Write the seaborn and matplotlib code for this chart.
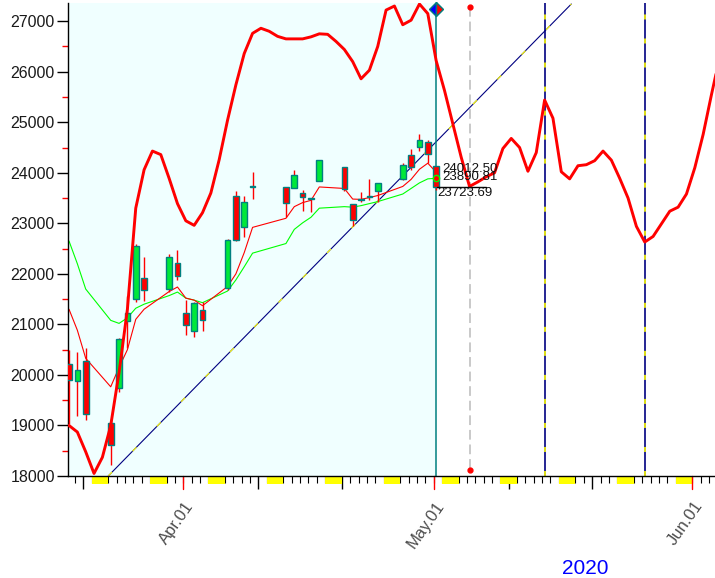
import numpy as np
import pandas as pd
import matplotlib
matplotlib.use("Agg")
import matplotlib.pyplot as plt
import matplotlib.dates as mdates
from matplotlib import font_manager
from matplotlib.patches import Rectangle
import seaborn as sns

# daily candles, Mar 18 - May 1 2020
dates = ["2020-03-18", "2020-03-19", "2020-03-20", "2020-03-23", "2020-03-24",
         "2020-03-25", "2020-03-26", "2020-03-27", "2020-03-30", "2020-03-31",
         "2020-04-01", "2020-04-02", "2020-04-03", "2020-04-06", "2020-04-07",
         "2020-04-08", "2020-04-09", "2020-04-13", "2020-04-14", "2020-04-15",
         "2020-04-16", "2020-04-17", "2020-04-20", "2020-04-21", "2020-04-22",
         "2020-04-23", "2020-04-24", "2020-04-27", "2020-04-28", "2020-04-29",
         "2020-04-30", "2020-05-01"]
opens = [20210, 19880, 20270, 19050, 19750, 21060, 21500, 21910, 21710, 22220,
         21220, 20870, 21290, 21730, 23550, 22920, 23730, 23710, 23700, 23610,
         23480, 23840, 24110, 23380, 23460, 23520, 23640, 23870, 24360, 24520,
         24600, 24130]
highs = [20490, 20450, 20530, 19120, 20730, 21560, 22600, 22340, 22400, 22480,
         21490, 21450, 21440, 22690, 23640, 23540, 24010, 23720, 24050, 23650,
         23510, 24260, 24120, 23390, 23620, 23880, 23800, 24190, 24480, 24760,
         24640, 24130]
lows = [19030, 19180, 19110, 18210, 19670, 20540, 21440, 21470, 21640, 21875,
        20800, 20750, 20870, 21690, 22650, 22720, 23490, 23120, 23710, 23240,
        23220, 23830, 23640, 22940, 23420, 23460, 23420, 23850, 24050, 24440,
        24190, 23650]
closes = [19900, 20090, 19220, 18620, 20720, 21220, 22560, 21680, 22340, 21950,
          20980, 21430, 21080, 22680, 22680, 23430, 23710, 23410, 23960, 23530,
          23500, 24250, 23670, 23060, 23490, 23540, 23790, 24150, 24110, 24640,
          24380, 23723.69]
ma_fast = [21300, 20885, 20330, 19765, 20150, 20500, 21100, 21300, 21650, 21740,
           21520, 21480, 21370, 21750, 22000, 22420, 22920, 23100, 23330, 23410,
           23455, 23720, 23690, 23480, 23474, 23510, 23550, 23730, 23870, 24070,
           24190, 24012.50]
ma_slow = [22650, 22200, 21700, 21080, 21020, 21130, 21320, 21400, 21570, 21640,
           21520, 21480, 21430, 21660, 21880, 22140, 22410, 22600, 22880, 23010,
           23120, 23300, 23330, 23320, 23350, 23390, 23430, 23580, 23690, 23800,
           23880, 23890.81]

# cycle projection, one value per calendar day starting Mar 18
cycle_start = "2020-03-18"
cycle = [19000, 18870, 18480, 18050, 18370, 19000, 20050, 21300, 23300, 24060,
         24430, 24360, 23890, 23390, 23050, 22960, 23210, 23600, 24260, 25040,
         25740, 26360, 26760, 26860, 26800, 26700, 26650, 26650, 26650, 26690,
         26750, 26740, 26600, 26440, 26200, 25860, 26030, 26500, 27220, 27300,
         26930, 27020, 27340, 27150, 26220, 25630, 24970, 24310, 23730, 23820,
         23920, 24000, 24480, 24680, 24500, 24030, 24400, 25440, 25080, 24020,
         23880, 24140, 24160, 24240, 24430, 24250, 23890, 23500, 22940, 22630,
         22740, 22990, 23240, 23320, 23580, 24100, 24760, 25550, 26300]

trend_dates = ["2020-03-23", "2020-05-17 12:00"]
trend_vals = [18000, 27340]
now_date = "2020-05-01"
gray_date = "2020-05-05 10:00"
gray_dots = [27290, 18120]
cycle_marks = ["2020-05-14", "2020-05-26"]
end_labels = ["24012.50", "23890.81", "23723.69"]
month_ticks = ["2020-04-01", "2020-05-01", "2020-06-01"]
month_labels = ["Apr.01", "May.01", "Jun.01"]

sns.set_theme(style="ticks")
plt.rcParams["font.family"] = ["Liberation Sans", "DejaVu Sans"]
plt.rcParams["lines.scale_dashes"] = False
names = {f.name for f in font_manager.fontManager.ttflist}
narrow = "Liberation Sans Narrow" if "Liberation Sans Narrow" in names else "Liberation Sans"

shift = 0.3  # marks sit a little right of the day tick
num = lambda s: mdates.date2num(pd.Timestamp(s))
xs = np.array([num(d) for d in dates]) + shift
now_x = num(now_date) + shift
cyc_x = num(cycle_start) + shift + np.arange(len(cycle))

fig = plt.figure(figsize=(7.15, 5.78), dpi=100)
ax = fig.add_axes([68 / 715, 102 / 578, 647 / 715, 473 / 578])
x0 = num("2020-04-01") - 13.82
x1 = num("2020-04-01") + 63.72
ax.set_xlim(x0, x1)
ax.set_ylim(18000, 27360)

ax.axvspan(x0, now_x, color="#f0ffff", zorder=0, lw=0)

# trend line
tx = [num(d) for d in trend_dates]
ax.plot(tx, trend_vals, color="#000080", lw=0.8, zorder=1.5)
ax.plot(tx, trend_vals, color="#ffff00", lw=0.8, dashes=(4, 21), zorder=1.6)

# vertical markers
ax.axvline(now_x, color="#008080", lw=1.1, zorder=1.7)
gx = num(gray_date)
ax.plot([gx, gx], gray_dots, color="#c0c0c0", lw=1.2, dashes=(7, 3.5), zorder=1.7)
ax.plot([gx, gx], gray_dots, "o", color="red", ms=3.5, zorder=5, clip_on=False)
for d in cycle_marks:
    vx = num(d) + shift
    ax.axvline(vx, color="#000080", lw=1.2, zorder=1.7)
    ax.axvline(vx, color="#ffff00", lw=1.2, dashes=(3.6, 13.7), zorder=1.8)

# moving averages
sns.lineplot(x=xs, y=ma_slow, ax=ax, color="#00ff00", lw=0.8, estimator=None, sort=False, zorder=2)
sns.lineplot(x=xs, y=ma_fast, ax=ax, color="#ff0000", lw=0.8, estimator=None, sort=False, zorder=2)

# candles
ax.vlines(xs, lows, highs, color="#ff0000", lw=1, zorder=3)
o = np.array(opens)
c = np.array(closes)
fill = np.where(c >= o, "#00e83a", "#ff0000")
ax.bar(xs, np.abs(c - o), bottom=np.minimum(o, c), width=0.68, color=fill,
       edgecolor="#008080", linewidth=1, zorder=3.5)

# cycle projection
sns.lineplot(x=cyc_x, y=cycle, ax=ax, color="#ff0000", lw=2.1, estimator=None, sort=False, zorder=4)

ax.plot(now_x, ma_slow[-1], "o", ms=4.5, mfc="red", mec="#00ff00", mew=1, zorder=5)
ax.plot(now_x, 27250, marker="D", ms=7, fillstyle="left", mfc="#0000ff",
        mfcalt="#ff0000", mec="#008080", mew=1, zorder=6, clip_on=False)
ax.plot([num(now_date) + 0.4, num(now_date) + 6.3], [closes[-1]] * 2, color="black", lw=1, zorder=5)
ax.text(num(now_date) + 1.05, 24075, end_labels[0], fontsize=9.5, family=narrow, va="center", color="#111111", zorder=6)
ax.text(num(now_date) + 1.05, 23925, end_labels[1], fontsize=9.5, family=narrow, va="center", color="#111111", zorder=6)
ax.text(num(now_date) + 0.45, 23610, end_labels[2], fontsize=9.5, family=narrow, va="center", color="#111111", zorder=6)

# axes styling
for s in ["top", "right"]:
    ax.spines[s].set_visible(False)
for s in ["left", "bottom"]:
    ax.spines[s].set_color("black")
    ax.spines[s].set_linewidth(1)

yt = list(range(18000, 27001, 1000))
ax.set_yticks(yt, [str(v) for v in yt], fontsize=11.5, fontfamily=narrow, color="#1a1a1a")
ax.set_yticks(list(range(18500, 27001, 1000)), minor=True)
ax.tick_params(axis="y", which="major", length=8, width=1, color="black", pad=1.5, left=True)
ax.tick_params(axis="y", which="minor", length=4, width=1, color="red", left=True)

ax.xaxis.set_major_locator(mdates.DayLocator(bymonthday=[10, 20]))
ax.xaxis.set_minor_locator(mdates.DayLocator())
ax.xaxis.set_major_formatter(plt.NullFormatter())
ax.tick_params(axis="x", which="major", length=9, width=1, color="black", bottom=True)
ax.tick_params(axis="x", which="minor", length=5, width=0.8, color="black", bottom=True)

trans = ax.get_xaxis_transform()
px = 1 / 473
for sat in pd.date_range("2020-03-14", "2020-06-06", freq="W-SAT"):
    sx = num(sat)
    if sx >= x0 and sx + 2 <= x1:
        ax.add_patch(Rectangle((sx, -8 * px), 2, 8 * px, transform=trans,
                               facecolor="#ffff00", edgecolor="none", clip_on=False, zorder=1))
for d, lab in zip(month_ticks, month_labels):
    mx = num(d)
    ax.plot([mx, mx], [0, -13 * px], transform=trans, color="red", lw=1, clip_on=False)
    ax.text(mx + 0.9, -27 * px, lab, transform=trans, rotation=55, ha="right", va="center",
            rotation_mode="anchor", fontsize=12, color="#4d4d4d")

fig.text(585 / 715, 1 - 568 / 578, "2020", color="#0000ff", fontsize=15, ha="center", va="center")

fig.savefig("out.png", dpi=100)
